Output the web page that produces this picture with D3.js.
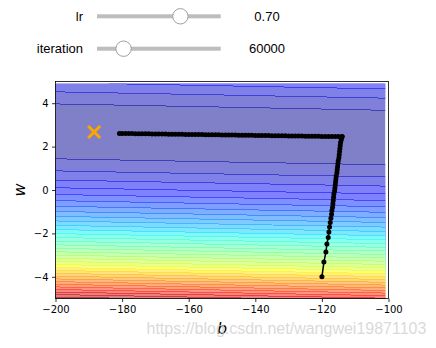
<!DOCTYPE html>
<html>
<head>
<meta charset="utf-8">
<script src="https://cdn.jsdelivr.net/npm/d3@7"></script>
<style>
  html, body { margin: 0; padding: 0; background: #fff; }
  svg { display: block; }
</style>
</head>
<body>
<svg id="chart" width="436" height="348"></svg>
<script>
// ---- training data (x -> y) used for the squared-error loss surface ----
const xData = [338, 333, 328, 207, 226, 25, 179, 60, 208, 606];
const yData = [640, 633, 619, 393, 428, 27, 193, 66, 226, 1591];

// ---- parameter grid: bias b and weight w ----
const bGrid = d3.range(-200, -100, 1);
const wGrid = d3.range(-50, 50).map(k => k / 10);

// ---- filled contour levels ----
const levels = d3.range(0, 36).map(k => k * 150000);

// ---- axis ticks ----
const bTicks = [-200, -180, -160, -140, -120, -100];
const wTicks = [-4, -2, 0, 2, 4];

// ---- optimum marker ----
const bestB = [-188.4];
const bestW = [2.67];

// ---- Adagrad trajectory (b_history, w_history) ----
const bHistory = [
  -120.0, -119.4, -118.8, -118.5, -118.1, -117.9, -117.7, -117.5, -117.3,
  -117.1, -117.0, -116.8, -116.7, -116.6, -116.5, -116.4, -116.2, -116.1,
  -116.0, -115.9, -115.8, -115.7, -115.5, -115.4, -115.3, -115.2, -115.1,
  -114.9, -114.8, -114.7, -114.6, -114.5, -114.4, -114.2, -114.1, -114.0, -113.9,
  -115, -116, -117, -118, -119, -120, -121, -122, -123, -124,
  -125, -126, -127, -128, -129, -130, -131, -132, -133, -134,
  -135, -136, -137, -138, -139, -140, -141, -142, -143, -144,
  -145, -146, -147, -148, -149, -150, -151, -152, -153, -154,
  -155, -156, -157, -158, -159, -160, -161, -162, -163, -164,
  -165, -166, -167, -168, -169, -170, -171, -172, -173, -174,
  -175, -176, -177, -178, -179, -180, -180.8
];
const wHistory = [
  -4.00, -3.32, -2.86, -2.49, -2.19, -1.93, -1.70, -1.50, -1.30,
  -1.12, -0.95, -0.79, -0.63, -0.48, -0.33, -0.19, -0.05, 0.09,
  0.23, 0.37, 0.51, 0.65, 0.79, 0.93, 1.07, 1.21, 1.35,
  1.49, 1.63, 1.77, 1.91, 2.05, 2.19, 2.31, 2.40, 2.45, 2.46,
  2.460, 2.462, 2.464, 2.467, 2.469, 2.471, 2.473, 2.476, 2.478, 2.480,
  2.482, 2.485, 2.487, 2.489, 2.491, 2.494, 2.496, 2.498, 2.500, 2.503,
  2.505, 2.507, 2.509, 2.512, 2.514, 2.516, 2.518, 2.520, 2.523, 2.525,
  2.527, 2.529, 2.532, 2.534, 2.536, 2.538, 2.541, 2.543, 2.545, 2.547,
  2.550, 2.552, 2.554, 2.556, 2.559, 2.561, 2.563, 2.565, 2.568, 2.570,
  2.572, 2.574, 2.576, 2.579, 2.581, 2.583, 2.585, 2.588, 2.590, 2.592,
  2.594, 2.597, 2.599, 2.601, 2.603, 2.606, 2.606
];

// ---- slider widgets ----
const sliderNames = ["lr", "iteration"];
const sliderValues = [0.70, 60000];
const sliderDomains = [[0, 1], [10000, 300000]];
const sliderFormats = [".2f", "d"];

const svg = d3.select("#chart");

// ---------- sliders ----------
const sliderRowY = [16.3, 48.7];
const handleScale = (dom) => d3.scaleLinear().domain(dom).range([105, 212.7]);
sliderNames.forEach((name, i) => {
  const g = svg.append("g").attr("transform", `translate(0,${sliderRowY[i]})`);
  g.append("text")
    .attr("x", 83).attr("y", 4.6)
    .attr("text-anchor", "end")
    .style("font-family", "'Liberation Sans', Arial, sans-serif")
    .style("font-size", "13px")
    .attr("fill", "#000")
    .text(name);
  g.append("rect")
    .attr("x", 97).attr("y", -2)
    .attr("width", 123.7).attr("height", 4)
    .attr("fill", "#bdbdbd");
  g.append("circle")
    .attr("cx", handleScale(sliderDomains[i])(sliderValues[i]))
    .attr("cy", 0).attr("r", 7.7)
    .attr("fill", "#fff")
    .attr("stroke", "#9e9e9e").attr("stroke-width", 1);
  g.append("text")
    .attr("x", 267).attr("y", 4.6)
    .attr("text-anchor", "middle")
    .style("font-family", "'Liberation Sans', Arial, sans-serif")
    .style("font-size", "13px")
    .attr("fill", "#000")
    .text(d3.format(sliderFormats[i])(sliderValues[i]));
});

// ---------- plot scales ----------
const x = d3.scaleLinear().domain([-200, -100]).range([55.5, 388.5]);
const y = d3.scaleLinear().domain([-5, 5]).range([298.5, 81.5]);

// ---------- jet colormap ----------
const jetR = d3.scaleLinear().domain([0, 0.35, 0.66, 0.89, 1]).range([0, 0, 1, 1, 0.5]).clamp(true);
const jetG = d3.scaleLinear().domain([0, 0.125, 0.375, 0.64, 0.91, 1]).range([0, 0, 1, 1, 0, 0]).clamp(true);
const jetB = d3.scaleLinear().domain([0, 0.11, 0.34, 0.65, 1]).range([0.5, 1, 1, 0, 0]).clamp(true);
function jetOverWhite(t, a) {
  const f = c => Math.round(255 * (1 - a + a * c));
  return `rgb(${f(jetR(t))},${f(jetG(t))},${f(jetB(t))})`;
}

// ---------- loss surface ----------
const nx = bGrid.length, ny = wGrid.length;
const Z = new Float64Array(nx * ny);
for (let j = 0; j < ny; j++) {
  for (let i = 0; i < nx; i++) {
    const b = bGrid[i], w = wGrid[j];
    Z[j * nx + i] = d3.mean(xData, (xv, n) => (yData[n] - b - w * xv) ** 2);
  }
}
const levelMax = levels[levels.length - 1];
const contourSets = d3.contours().size([nx, ny]).thresholds(levels.slice(0, -1))(Z);

const db = bGrid[1] - bGrid[0], dw = wGrid[1] - wGrid[0];
const gridToPx = d3.geoTransform({
  point(cx, cy) {
    this.stream.point(x(bGrid[0] + (cx - 0.5) * db), y(wGrid[0] + (cy - 0.5) * dw));
  }
});
const gridPath = d3.geoPath(gridToPx);

svg.append("clipPath").attr("id", "gridclip")
  .append("rect")
  .attr("x", x(bGrid[0])).attr("y", y(wGrid[ny - 1]))
  .attr("width", x(bGrid[nx - 1]) - x(bGrid[0]))
  .attr("height", y(wGrid[0]) - y(wGrid[ny - 1]));

const surf = svg.append("g").attr("clip-path", "url(#gridclip)");
surf.selectAll("path.band")
  .data(contourSets)
  .join("path")
  .attr("class", "band")
  .attr("d", gridPath)
  .attr("fill", (d, k) => jetOverWhite(((levels[k] + levels[k + 1]) / 2) / levelMax, 0.5))
  .attr("stroke", "none")
  .attr("shape-rendering", "crispEdges");
surf.selectAll("path.edge")
  .data(contourSets.slice(1))
  .join("path")
  .attr("class", "edge")
  .attr("d", gridPath)
  .attr("fill", "none")
  .attr("stroke", (d, k) => jetOverWhite(levels[k + 1] / levelMax, 0.75))
  .attr("stroke-width", 1)
  .attr("shape-rendering", "crispEdges");

// ---------- trajectory ----------
const traj = bHistory.map((b, i) => [b, wHistory[i]]);
const plot = svg.append("g");
plot.append("path")
  .datum(traj)
  .attr("d", d3.line().x(d => x(d[0])).y(d => y(d[1])))
  .attr("fill", "none")
  .attr("stroke", "#000")
  .attr("stroke-width", 1.5);
plot.selectAll("circle.pt")
  .data(traj)
  .join("circle")
  .attr("class", "pt")
  .attr("cx", d => x(d[0]))
  .attr("cy", d => y(d[1]))
  .attr("r", 2.5)
  .attr("fill", "#000");

// ---------- optimum marker ----------
plot.selectAll("path.best")
  .data(bestB.map((b, i) => [b, bestW[i]]))
  .join("path")
  .attr("class", "best")
  .attr("transform", d => `translate(${x(d[0])},${y(d[1])})`)
  .attr("d", "M-6,-6L6,6M-6,6L6,-6")
  .attr("stroke", "#FFA500")
  .attr("stroke-width", 3)
  .attr("fill", "none");

// ---------- axes ----------
const tickFont = "'DejaVu Sans', sans-serif";
const xAxis = svg.append("g")
  .attr("transform", `translate(0,${y.range()[0]})`)
  .call(d3.axisBottom(x).tickValues(bTicks).tickSize(3.5).tickPadding(3.5));
const yAxis = svg.append("g")
  .attr("transform", `translate(${x.range()[0]},0)`)
  .call(d3.axisLeft(y).tickValues(wTicks).tickSize(3.5).tickPadding(3.5));
[xAxis, yAxis].forEach(a => {
  a.select(".domain").remove();
  a.selectAll(".tick line").attr("stroke", "#000").attr("stroke-width", 0.8);
  a.selectAll(".tick text")
    .attr("fill", "#000")
    .style("font-family", tickFont)
    .style("font-size", "10px");
});

// frame
svg.append("rect")
  .attr("x", x.range()[0]).attr("y", y.range()[1])
  .attr("width", x.range()[1] - x.range()[0])
  .attr("height", y.range()[0] - y.range()[1])
  .attr("fill", "none")
  .attr("stroke", "#000")
  .attr("stroke-width", 0.8);

// axis labels
svg.append("text")
  .attr("x", (x.range()[0] + x.range()[1]) / 2).attr("y", 333.5)
  .attr("text-anchor", "middle")
  .style("font-family", "'DejaVu Sans', sans-serif")
  .style("font-style", "italic")
  .style("font-size", "16px")
  .text("b");
svg.append("text")
  .attr("transform", `translate(25,${(y.range()[0] + y.range()[1]) / 2}) rotate(-90)`)
  .attr("text-anchor", "middle")
  .style("font-family", "'DejaVu Sans', sans-serif")
  .style("font-style", "italic")
  .style("font-size", "16px")
  .text("w");

// blog address overlay
svg.append("text")
  .attr("x", 146.5).attr("y", 333.5)
  .style("font-family", "'Liberation Sans', Arial, sans-serif")
  .style("font-size", "16px")
  .attr("fill", "#cfcfcf")
  .attr("fill-opacity", 0.8)
  .text("https://blog.csdn.net/wangwei19871103");
</script>
</body>
</html>
